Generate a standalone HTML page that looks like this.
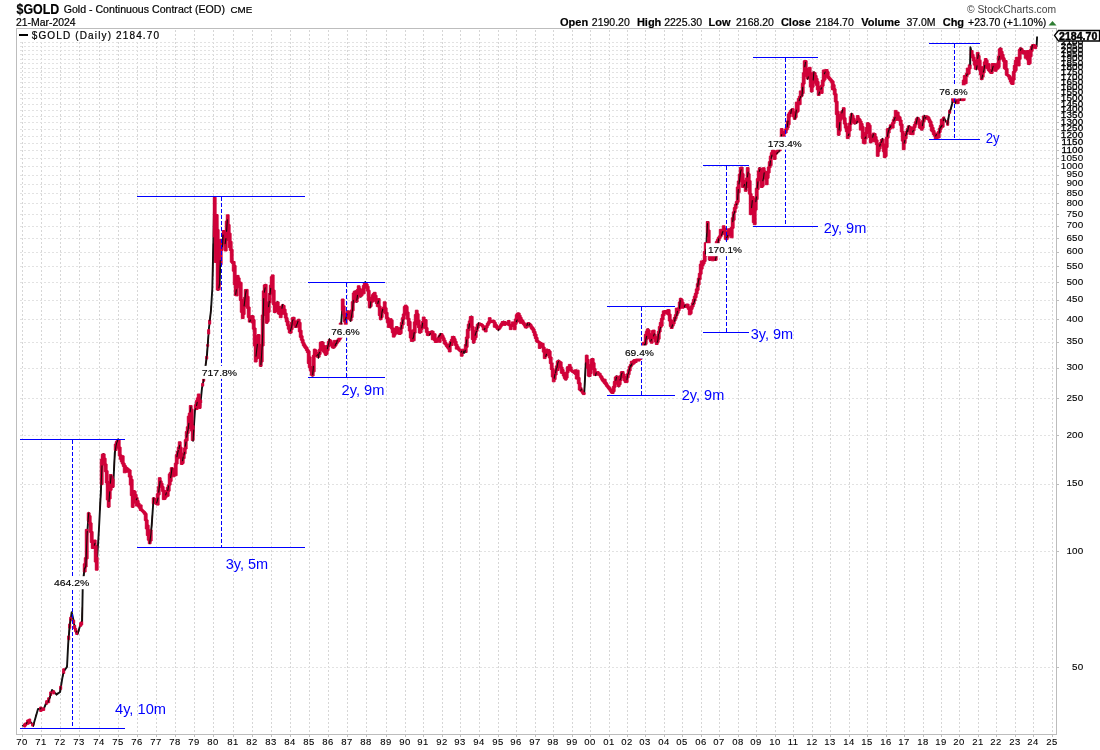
<!DOCTYPE html><html><head><meta charset="utf-8"><style>html,body{margin:0;padding:0;background:#fff;width:1100px;height:750px;overflow:hidden}svg{display:block;will-change:transform}text{font-family:"Liberation Sans",sans-serif}</style></head><body>
<svg width="1100" height="750" viewBox="0 0 1100 750" shape-rendering="crispEdges">
<g stroke="#d6d6d6" stroke-width="1" stroke-dasharray="2,2"><line x1="22.5" y1="30" x2="22.5" y2="732"/><line x1="41.5" y1="30" x2="41.5" y2="732"/><line x1="60.5" y1="30" x2="60.5" y2="732"/><line x1="79.5" y1="30" x2="79.5" y2="732"/><line x1="99.5" y1="30" x2="99.5" y2="732"/><line x1="118.5" y1="30" x2="118.5" y2="732"/><line x1="137.5" y1="30" x2="137.5" y2="732"/><line x1="156.5" y1="30" x2="156.5" y2="732"/><line x1="175.5" y1="30" x2="175.5" y2="732"/><line x1="194.5" y1="30" x2="194.5" y2="732"/><line x1="213.5" y1="30" x2="213.5" y2="732"/><line x1="233.5" y1="30" x2="233.5" y2="732"/><line x1="252.5" y1="30" x2="252.5" y2="732"/><line x1="271.5" y1="30" x2="271.5" y2="732"/><line x1="290.5" y1="30" x2="290.5" y2="732"/><line x1="309.5" y1="30" x2="309.5" y2="732"/><line x1="328.5" y1="30" x2="328.5" y2="732"/><line x1="347.5" y1="30" x2="347.5" y2="732"/><line x1="366.5" y1="30" x2="366.5" y2="732"/><line x1="386.5" y1="30" x2="386.5" y2="732"/><line x1="405.5" y1="30" x2="405.5" y2="732"/><line x1="423.5" y1="30" x2="423.5" y2="732"/><line x1="442.5" y1="30" x2="442.5" y2="732"/><line x1="460.5" y1="30" x2="460.5" y2="732"/><line x1="479.5" y1="30" x2="479.5" y2="732"/><line x1="498.5" y1="30" x2="498.5" y2="732"/><line x1="516.5" y1="30" x2="516.5" y2="732"/><line x1="535.5" y1="30" x2="535.5" y2="732"/><line x1="553.5" y1="30" x2="553.5" y2="732"/><line x1="572.5" y1="30" x2="572.5" y2="732"/><line x1="590.5" y1="30" x2="590.5" y2="732"/><line x1="609.5" y1="30" x2="609.5" y2="732"/><line x1="627.5" y1="30" x2="627.5" y2="732"/><line x1="645.5" y1="30" x2="645.5" y2="732"/><line x1="664.5" y1="30" x2="664.5" y2="732"/><line x1="682.5" y1="30" x2="682.5" y2="732"/><line x1="701.5" y1="30" x2="701.5" y2="732"/><line x1="719.5" y1="30" x2="719.5" y2="732"/><line x1="738.5" y1="30" x2="738.5" y2="732"/><line x1="756.5" y1="30" x2="756.5" y2="732"/><line x1="775.5" y1="30" x2="775.5" y2="732"/><line x1="793.5" y1="30" x2="793.5" y2="732"/><line x1="812.5" y1="30" x2="812.5" y2="732"/><line x1="830.5" y1="30" x2="830.5" y2="732"/><line x1="849.5" y1="30" x2="849.5" y2="732"/><line x1="867.5" y1="30" x2="867.5" y2="732"/><line x1="886.5" y1="30" x2="886.5" y2="732"/><line x1="904.5" y1="30" x2="904.5" y2="732"/><line x1="923.5" y1="30" x2="923.5" y2="732"/><line x1="941.5" y1="30" x2="941.5" y2="732"/><line x1="959.5" y1="30" x2="959.5" y2="732"/><line x1="978.5" y1="30" x2="978.5" y2="732"/><line x1="996.5" y1="30" x2="996.5" y2="732"/><line x1="1015.5" y1="30" x2="1015.5" y2="732"/><line x1="1033.5" y1="30" x2="1033.5" y2="732"/><line x1="1052.5" y1="30" x2="1052.5" y2="732"/></g>
<g stroke="#e2e2e2" stroke-width="1" stroke-dasharray="2,2"><line x1="20" y1="667.5" x2="1055" y2="667.5"/><line x1="20" y1="551.5" x2="1055" y2="551.5"/><line x1="20" y1="484.5" x2="1055" y2="484.5"/><line x1="20" y1="435.5" x2="1055" y2="435.5"/><line x1="20" y1="398.5" x2="1055" y2="398.5"/><line x1="20" y1="368.5" x2="1055" y2="368.5"/><line x1="20" y1="342.5" x2="1055" y2="342.5"/><line x1="20" y1="319.5" x2="1055" y2="319.5"/><line x1="20" y1="300.5" x2="1055" y2="300.5"/><line x1="20" y1="282.5" x2="1055" y2="282.5"/><line x1="20" y1="266.5" x2="1055" y2="266.5"/><line x1="20" y1="252.5" x2="1055" y2="252.5"/><line x1="20" y1="238.5" x2="1055" y2="238.5"/><line x1="20" y1="226.5" x2="1055" y2="226.5"/><line x1="20" y1="214.5" x2="1055" y2="214.5"/><line x1="20" y1="203.5" x2="1055" y2="203.5"/><line x1="20" y1="193.5" x2="1055" y2="193.5"/><line x1="20" y1="184.5" x2="1055" y2="184.5"/><line x1="20" y1="175.5" x2="1055" y2="175.5"/><line x1="20" y1="166.5" x2="1055" y2="166.5"/><line x1="20" y1="158.5" x2="1055" y2="158.5"/><line x1="20" y1="150.5" x2="1055" y2="150.5"/><line x1="20" y1="143.5" x2="1055" y2="143.5"/><line x1="20" y1="136.5" x2="1055" y2="136.5"/><line x1="20" y1="129.5" x2="1055" y2="129.5"/><line x1="20" y1="122.5" x2="1055" y2="122.5"/><line x1="20" y1="116.5" x2="1055" y2="116.5"/><line x1="20" y1="110.5" x2="1055" y2="110.5"/><line x1="20" y1="104.5" x2="1055" y2="104.5"/><line x1="20" y1="98.5" x2="1055" y2="98.5"/><line x1="20" y1="93.5" x2="1055" y2="93.5"/><line x1="20" y1="87.5" x2="1055" y2="87.5"/><line x1="20" y1="82.5" x2="1055" y2="82.5"/><line x1="20" y1="77.5" x2="1055" y2="77.5"/><line x1="20" y1="72.5" x2="1055" y2="72.5"/><line x1="20" y1="68.5" x2="1055" y2="68.5"/><line x1="20" y1="63.5" x2="1055" y2="63.5"/><line x1="20" y1="59.5" x2="1055" y2="59.5"/><line x1="20" y1="54.5" x2="1055" y2="54.5"/><line x1="20" y1="50.5" x2="1055" y2="50.5"/><line x1="20" y1="46.5" x2="1055" y2="46.5"/><line x1="20" y1="42.5" x2="1055" y2="42.5"/></g>
<rect x="16.5" y="28.5" width="1040" height="706" fill="none" stroke="#bdbdbd" stroke-width="1"/>
<g stroke="#bdbdbd" stroke-width="1"><line x1="1057" y1="667.5" x2="1059" y2="667.5"/><line x1="1057" y1="551.5" x2="1059" y2="551.5"/><line x1="1057" y1="484.5" x2="1059" y2="484.5"/><line x1="1057" y1="435.5" x2="1059" y2="435.5"/><line x1="1057" y1="398.5" x2="1059" y2="398.5"/><line x1="1057" y1="368.5" x2="1059" y2="368.5"/><line x1="1057" y1="342.5" x2="1059" y2="342.5"/><line x1="1057" y1="319.5" x2="1059" y2="319.5"/><line x1="1057" y1="300.5" x2="1059" y2="300.5"/><line x1="1057" y1="282.5" x2="1059" y2="282.5"/><line x1="1057" y1="266.5" x2="1059" y2="266.5"/><line x1="1057" y1="252.5" x2="1059" y2="252.5"/><line x1="1057" y1="238.5" x2="1059" y2="238.5"/><line x1="1057" y1="226.5" x2="1059" y2="226.5"/><line x1="1057" y1="214.5" x2="1059" y2="214.5"/><line x1="1057" y1="203.5" x2="1059" y2="203.5"/><line x1="1057" y1="193.5" x2="1059" y2="193.5"/><line x1="1057" y1="184.5" x2="1059" y2="184.5"/><line x1="1057" y1="175.5" x2="1059" y2="175.5"/><line x1="1057" y1="166.5" x2="1059" y2="166.5"/><line x1="1057" y1="158.5" x2="1059" y2="158.5"/><line x1="1057" y1="150.5" x2="1059" y2="150.5"/><line x1="1057" y1="143.5" x2="1059" y2="143.5"/><line x1="1057" y1="136.5" x2="1059" y2="136.5"/><line x1="1057" y1="129.5" x2="1059" y2="129.5"/><line x1="1057" y1="122.5" x2="1059" y2="122.5"/><line x1="1057" y1="116.5" x2="1059" y2="116.5"/><line x1="1057" y1="110.5" x2="1059" y2="110.5"/><line x1="1057" y1="104.5" x2="1059" y2="104.5"/><line x1="1057" y1="98.5" x2="1059" y2="98.5"/><line x1="1057" y1="93.5" x2="1059" y2="93.5"/><line x1="1057" y1="87.5" x2="1059" y2="87.5"/><line x1="1057" y1="82.5" x2="1059" y2="82.5"/><line x1="1057" y1="77.5" x2="1059" y2="77.5"/><line x1="1057" y1="72.5" x2="1059" y2="72.5"/><line x1="1057" y1="68.5" x2="1059" y2="68.5"/><line x1="1057" y1="63.5" x2="1059" y2="63.5"/><line x1="1057" y1="59.5" x2="1059" y2="59.5"/><line x1="1057" y1="54.5" x2="1059" y2="54.5"/><line x1="1057" y1="50.5" x2="1059" y2="50.5"/><line x1="1057" y1="46.5" x2="1059" y2="46.5"/><line x1="1057" y1="42.5" x2="1059" y2="42.5"/><line x1="22.5" y1="735" x2="22.5" y2="737"/><line x1="41.5" y1="735" x2="41.5" y2="737"/><line x1="60.5" y1="735" x2="60.5" y2="737"/><line x1="79.5" y1="735" x2="79.5" y2="737"/><line x1="99.5" y1="735" x2="99.5" y2="737"/><line x1="118.5" y1="735" x2="118.5" y2="737"/><line x1="137.5" y1="735" x2="137.5" y2="737"/><line x1="156.5" y1="735" x2="156.5" y2="737"/><line x1="175.5" y1="735" x2="175.5" y2="737"/><line x1="194.5" y1="735" x2="194.5" y2="737"/><line x1="213.5" y1="735" x2="213.5" y2="737"/><line x1="233.5" y1="735" x2="233.5" y2="737"/><line x1="252.5" y1="735" x2="252.5" y2="737"/><line x1="271.5" y1="735" x2="271.5" y2="737"/><line x1="290.5" y1="735" x2="290.5" y2="737"/><line x1="309.5" y1="735" x2="309.5" y2="737"/><line x1="328.5" y1="735" x2="328.5" y2="737"/><line x1="347.5" y1="735" x2="347.5" y2="737"/><line x1="366.5" y1="735" x2="366.5" y2="737"/><line x1="386.5" y1="735" x2="386.5" y2="737"/><line x1="405.5" y1="735" x2="405.5" y2="737"/><line x1="423.5" y1="735" x2="423.5" y2="737"/><line x1="442.5" y1="735" x2="442.5" y2="737"/><line x1="460.5" y1="735" x2="460.5" y2="737"/><line x1="479.5" y1="735" x2="479.5" y2="737"/><line x1="498.5" y1="735" x2="498.5" y2="737"/><line x1="516.5" y1="735" x2="516.5" y2="737"/><line x1="535.5" y1="735" x2="535.5" y2="737"/><line x1="553.5" y1="735" x2="553.5" y2="737"/><line x1="572.5" y1="735" x2="572.5" y2="737"/><line x1="590.5" y1="735" x2="590.5" y2="737"/><line x1="609.5" y1="735" x2="609.5" y2="737"/><line x1="627.5" y1="735" x2="627.5" y2="737"/><line x1="645.5" y1="735" x2="645.5" y2="737"/><line x1="664.5" y1="735" x2="664.5" y2="737"/><line x1="682.5" y1="735" x2="682.5" y2="737"/><line x1="701.5" y1="735" x2="701.5" y2="737"/><line x1="719.5" y1="735" x2="719.5" y2="737"/><line x1="738.5" y1="735" x2="738.5" y2="737"/><line x1="756.5" y1="735" x2="756.5" y2="737"/><line x1="775.5" y1="735" x2="775.5" y2="737"/><line x1="793.5" y1="735" x2="793.5" y2="737"/><line x1="812.5" y1="735" x2="812.5" y2="737"/><line x1="830.5" y1="735" x2="830.5" y2="737"/><line x1="849.5" y1="735" x2="849.5" y2="737"/><line x1="867.5" y1="735" x2="867.5" y2="737"/><line x1="886.5" y1="735" x2="886.5" y2="737"/><line x1="904.5" y1="735" x2="904.5" y2="737"/><line x1="923.5" y1="735" x2="923.5" y2="737"/><line x1="941.5" y1="735" x2="941.5" y2="737"/><line x1="959.5" y1="735" x2="959.5" y2="737"/><line x1="978.5" y1="735" x2="978.5" y2="737"/><line x1="996.5" y1="735" x2="996.5" y2="737"/><line x1="1015.5" y1="735" x2="1015.5" y2="737"/><line x1="1033.5" y1="735" x2="1033.5" y2="737"/><line x1="1052.5" y1="735" x2="1052.5" y2="737"/></g>
<g font-size="9.9" text-anchor="end" fill="#000" stroke="#000" stroke-width="0.12" letter-spacing="0.2" shape-rendering="auto"><text x="1083.5" y="670.0">50</text><text x="1083.5" y="554.0">100</text><text x="1083.5" y="486.1">150</text><text x="1083.5" y="438.0">200</text><text x="1083.5" y="400.7">250</text><text x="1083.5" y="370.1">300</text><text x="1083.5" y="344.3">350</text><text x="1083.5" y="322.0">400</text><text x="1083.5" y="302.3">450</text><text x="1083.5" y="284.7">500</text><text x="1083.5" y="268.7">550</text><text x="1083.5" y="254.1">600</text><text x="1083.5" y="240.7">650</text><text x="1083.5" y="228.3">700</text><text x="1083.5" y="216.8">750</text><text x="1083.5" y="206.0">800</text><text x="1083.5" y="195.9">850</text><text x="1083.5" y="186.3">900</text><text x="1083.5" y="177.2">950</text><text x="1083.5" y="168.7">1000</text><text x="1083.5" y="160.5">1050</text><text x="1083.5" y="152.7" stroke-width="0.3">1100</text><text x="1083.5" y="145.3" stroke-width="0.3">1150</text><text x="1083.5" y="138.1" stroke-width="0.3">1200</text><text x="1083.5" y="131.3" stroke-width="0.3">1250</text><text x="1083.5" y="124.7" stroke-width="0.3">1300</text><text x="1083.5" y="118.4" stroke-width="0.3">1350</text><text x="1083.5" y="112.3" stroke-width="0.3">1400</text><text x="1083.5" y="106.5" stroke-width="0.3">1450</text><text x="1083.5" y="100.8" stroke-width="0.3">1500</text><text x="1083.5" y="95.3" stroke-width="0.3">1550</text><text x="1083.5" y="90.0" stroke-width="0.3">1600</text><text x="1083.5" y="84.9" stroke-width="0.3">1650</text><text x="1083.5" y="79.9" stroke-width="0.3">1700</text><text x="1083.5" y="75.0" stroke-width="0.3">1750</text><text x="1083.5" y="70.3" stroke-width="0.3">1800</text><text x="1083.5" y="65.7" stroke-width="0.3">1850</text><text x="1083.5" y="61.2" stroke-width="0.3">1900</text><text x="1083.5" y="56.9" stroke-width="0.3">1950</text><text x="1083.5" y="52.7" stroke-width="0.3">2000</text><text x="1083.5" y="48.5" stroke-width="0.3">2050</text><text x="1083.5" y="44.5" stroke-width="0.3">2100</text></g>
<g font-size="9.5" letter-spacing="0.5" text-anchor="middle" fill="#000" stroke="#000" stroke-width="0.1" shape-rendering="auto"><text x="22.1" y="745.1">70</text><text x="41.1" y="745.1">71</text><text x="60.1" y="745.1">72</text><text x="79.1" y="745.1">73</text><text x="99.1" y="745.1">74</text><text x="118.1" y="745.1">75</text><text x="137.1" y="745.1">76</text><text x="156.1" y="745.1">77</text><text x="175.1" y="745.1">78</text><text x="194.1" y="745.1">79</text><text x="213.1" y="745.1">80</text><text x="233.1" y="745.1">81</text><text x="252.1" y="745.1">82</text><text x="271.1" y="745.1">83</text><text x="290.1" y="745.1">84</text><text x="309.1" y="745.1">85</text><text x="328.1" y="745.1">86</text><text x="347.1" y="745.1">87</text><text x="366.1" y="745.1">88</text><text x="386.1" y="745.1">89</text><text x="405.1" y="745.1">90</text><text x="423.1" y="745.1">91</text><text x="442.1" y="745.1">92</text><text x="460.1" y="745.1">93</text><text x="479.1" y="745.1">94</text><text x="498.1" y="745.1">95</text><text x="516.1" y="745.1">96</text><text x="535.1" y="745.1">97</text><text x="553.1" y="745.1">98</text><text x="572.1" y="745.1">99</text><text x="590.1" y="745.1">00</text><text x="609.1" y="745.1">01</text><text x="627.1" y="745.1">02</text><text x="645.1" y="745.1">03</text><text x="664.1" y="745.1">04</text><text x="682.1" y="745.1">05</text><text x="701.1" y="745.1">06</text><text x="719.1" y="745.1">07</text><text x="738.1" y="745.1">08</text><text x="756.1" y="745.1">09</text><text x="775.1" y="745.1">10</text><text x="793.1" y="745.1">11</text><text x="812.1" y="745.1">12</text><text x="830.1" y="745.1">13</text><text x="849.1" y="745.1">14</text><text x="867.1" y="745.1">15</text><text x="886.1" y="745.1">16</text><text x="904.1" y="745.1">17</text><text x="923.1" y="745.1">18</text><text x="941.1" y="745.1">19</text><text x="959.1" y="745.1">20</text><text x="978.1" y="745.1">21</text><text x="996.1" y="745.1">22</text><text x="1015.1" y="745.1">23</text><text x="1033.1" y="745.1">24</text><text x="1052.1" y="745.1">25</text></g>
<path d="M22.2,726.0 L26.0,724.0 L29.3,721.0 L33.4,725.0 L36.0,716.0 L38.0,709.0 L43.8,709.0 L46.2,702.7 L49.0,700.0 L52.0,690.0 L56.6,694.6 L60.1,692.0 L62.0,680.0 L63.6,671.4 L67.0,667.0 L68.2,643.5 L69.8,625.0 L71.7,612.2 L73.0,618.0 L75.2,629.6 L77.5,634.2 L80.0,626.0 L82.1,622.6 L82.8,583.0 L84.4,569.3 L86.0,563.8 L86.9,538.8 L88.7,512.8 L90.5,525.0 L92.8,548.0 L95.0,543.0 L96.6,568.0 L98.9,530.0 L101.0,489.0 L102.3,457.0 L103.4,454.0 L106.8,475.0 L108.6,507.0 L110.9,475.0 L113.2,487.0 L114.8,452.7 L116.3,443.6 L118.2,440.0 L120.4,457.0 L125.0,467.0 L129.5,470.8 L131.8,489.0 L132.9,507.0 L134.0,491.0 L138.6,505.0 L140.8,509.0 L145.4,514.0 L148.0,534.0 L149.9,543.4 L151.7,525.0 L153.6,498.0 L157.0,504.0 L160.0,481.0 L162.0,486.0 L165.0,497.0 L169.0,486.0 L172.0,468.0 L175.0,474.0 L177.0,456.0 L179.6,446.0 L182.0,464.0 L185.0,450.0 L187.0,434.0 L189.0,424.0 L191.0,406.0 L193.0,440.0 L195.0,410.0 L198.0,398.0 L200.0,408.0 L202.0,388.0 L203.6,380.0 L207.0,355.0 L208.9,328.7 L211.0,310.0 L212.3,288.7 L213.2,250.0 L214.2,197.5 L215.0,225.0 L216.0,262.0 L217.0,215.0 L218.0,290.0 L219.5,285.0 L221.0,240.0 L222.0,250.0 L223.5,231.0 L225.5,246.0 L227.4,218.6 L230.0,240.0 L231.5,251.7 L232.3,263.0 L234.0,262.0 L235.8,295.0 L237.5,276.0 L240.1,286.4 L242.7,317.6 L246.2,289.9 L248.0,305.5 L249.7,321.0 L252.3,315.9 L254.9,333.2 L255.7,359.2 L258.3,334.9 L260.9,366.1 L262.7,336.7 L263.5,302.0 L265.3,284.7 L267.0,322.8 L269.6,298.5 L272.2,277.7 L274.8,312.4 L277.4,302.0 L279.3,314.0 L283.0,304.8 L286.7,319.7 L290.4,332.8 L293.2,317.8 L296.0,327.0 L298.8,319.7 L300.7,334.6 L303.5,344.0 L308.2,351.4 L310.0,366.0 L312.5,375.7 L314.7,349.6 L318.4,357.0 L322.2,342.0 L325.9,355.0 L329.6,340.0 L333.4,347.7 L337.0,342.0 L339.9,338.4 L341.3,322.0 L342.7,303.3 L345.3,322.0 L348.0,311.3 L350.7,320.7 L352.7,307.3 L354.0,294.0 L355.3,291.3 L356.7,302.0 L358.7,286.7 L360.7,296.7 L363.3,289.3 L365.3,282.0 L368.0,288.7 L370.0,307.3 L372.0,298.0 L374.7,293.3 L376.7,303.3 L378.7,302.0 L380.7,319.3 L382.7,310.0 L384.7,306.7 L388.0,322.0 L391.3,324.7 L394.0,335.3 L396.7,327.3 L400.0,334.0 L402.7,320.7 L405.3,310.0 L407.3,312.7 L410.0,330.0 L413.3,340.7 L416.7,311.3 L420.0,332.7 L424.0,319.3 L428.0,335.3 L432.0,331.3 L436.0,342.0 L441.3,334.0 L445.3,343.3 L448.7,348.7 L453.3,336.7 L456.0,344.7 L459.3,350.0 L461.7,351.6 L464.7,352.3 L466.1,345.7 L468.3,329.6 L471.3,316.4 L473.5,342.8 L475.7,332.5 L478.6,323.7 L482.3,325.2 L485.2,329.6 L488.9,322.3 L493.3,320.8 L498.4,329.6 L503.5,321.5 L508.7,324.5 L513.1,325.9 L516.0,323.0 L518.2,313.5 L521.9,320.8 L526.3,327.4 L528.5,323.0 L533.6,329.6 L537.3,341.3 L542.4,344.3 L545.3,356.0 L549.0,350.1 L552.7,372.1 L554.1,379.5 L558.5,360.4 L562.9,372.1 L565.9,379.5 L568.1,367.5 L573.2,371.9 L577.6,374.8 L580.5,389.5 L584.2,393.9 L585.7,364.5 L586.7,355.7 L589.3,376.3 L592.3,358.7 L595.2,374.8 L598.9,373.3 L602.5,379.2 L606.9,385.1 L612.8,393.1 L616.5,376.3 L618.7,386.5 L622.3,371.9 L626.0,382.1 L630.4,366.0 L634.8,360.1 L640.7,358.7 L645.1,344.0 L648.0,329.3 L650.9,341.1 L653.9,333.7 L656.8,344.0 L659.7,329.3 L664.1,311.7 L668.5,310.3 L671.5,327.9 L675.9,316.1 L679.5,307.3 L680.7,298.6 L683.9,307.1 L687.1,305.0 L690.3,311.4 L693.5,302.9 L696.7,292.2 L699.1,279.0 L701.7,266.2 L703.9,261.9 L705.5,254.4 L706.5,242.7 L707.3,221.9 L708.7,235.2 L709.7,260.0 L712.5,257.0 L715.6,260.0 L718.3,239.5 L722.0,233.1 L724.2,228.3 L726.3,239.5 L729.5,232.0 L731.6,235.2 L732.7,221.3 L733.8,213.9 L735.9,205.3 L737.5,201.0 L738.8,183.9 L741.2,167.9 L743.6,183.9 L746.0,188.7 L747.9,171.9 L750.0,187.1 L750.8,214.2 L752.4,199.9 L754.0,222.2 L756.4,196.7 L758.0,180.7 L759.6,167.9 L762.0,187.1 L764.3,171.1 L766.7,180.7 L769.1,167.9 L771.2,156.7 L772.8,150.4 L775.5,154.3 L777.9,150.4 L779.5,150.4 L781.9,132.8 L785.1,132.8 L787.5,126.4 L789.2,114.0 L792.4,109.2 L794.8,118.8 L797.2,107.6 L799.6,98.0 L802.0,94.8 L803.6,80.4 L805.2,61.2 L807.6,78.8 L810.0,70.8 L811.6,91.6 L814.0,72.4 L817.2,82.0 L818.8,93.2 L822.0,86.8 L825.2,70.8 L828.4,77.2 L832.4,82.0 L834.8,91.6 L836.4,102.8 L837.2,114.0 L838.8,134.8 L840.4,117.2 L842.8,110.8 L845.2,123.6 L848.4,136.4 L851.6,114.0 L854.8,123.6 L858.8,118.8 L860.0,120.9 L862.1,126.3 L864.3,143.3 L865.9,134.8 L868.0,123.1 L869.6,130.5 L870.7,142.3 L873.9,133.7 L877.1,143.3 L878.1,151.9 L882.4,139.1 L885.1,157.2 L887.2,138.0 L888.8,129.5 L892.0,126.3 L894.1,120.9 L896.3,114.5 L899.5,117.7 L901.6,126.3 L903.7,145.5 L905.9,134.8 L909.1,126.3 L912.3,132.7 L915.5,124.1 L917.6,117.7 L919.7,124.1 L921.9,129.5 L924.0,116.7 L927.2,116.7 L930.4,122.0 L933.6,132.7 L935.7,136.9 L939.0,132.7 L941.1,126.3 L943.8,117.7 L947.5,124.1 L949.6,111.3 L950.6,109.6 L952.2,103.2 L952.6,98.8 L955.8,102.4 L959.0,99.2 L963.4,99.6 L963.4,82.4 L966.2,76.0 L968.6,70.4 L970.2,65.6 L970.4,47.2 L972.0,54.7 L974.1,60.0 L976.3,68.5 L978.4,55.7 L981.1,72.8 L981.6,79.2 L983.7,69.6 L985.9,58.9 L988.0,68.5 L991.2,72.8 L994.4,64.3 L997.6,68.5 L1000.3,48.3 L1002.9,57.9 L1005.1,63.2 L1007.2,74.9 L1009.3,76.0 L1012.5,84.0 L1014.7,68.5 L1016.8,57.9 L1018.9,61.1 L1020.5,48.3 L1023.2,53.6 L1025.4,51.5 L1027.5,55.7 L1029.1,64.3 L1030.7,52.5 L1032.8,45.1 L1035.0,47.2 L1036.6,46.1 L1037.1,36.5" fill="none" stroke="#111" stroke-width="1.9" stroke-linejoin="round" shape-rendering="auto"/>
<path d="M23.7,723.8h2.0v3.2h-2.0zM24.7,722.9h2.0v2.8h-2.0zM26.7,720.0h2.0v4.3h-2.0zM27.7,719.9h2.0v3.9h-2.0zM28.7,719.0h2.0v4.0h-2.0zM31.7,723.4h2.0v2.7h-2.0zM39.7,707.0h2.0v4.4h-2.0zM40.7,707.8h2.0v3.1h-2.0zM42.7,708.0h2.0v2.4h-2.0zM45.7,700.7h2.0v3.5h-2.0zM47.7,697.8h2.0v4.9h-2.0zM49.7,691.9h2.0v3.5h-2.0zM52.7,690.8h2.0v3.1h-2.0zM59.7,686.2h2.0v3.1h-2.0zM62.7,668.8h2.0v4.8h-2.0zM67.7,635.9h2.0v3.7h-2.0zM68.7,623.9h2.0v4.3h-2.0zM69.7,617.2h2.0v3.4h-2.0zM72.7,620.2h2.0v3.1h-2.0zM73.7,625.5h2.0v3.5h-2.0zM74.7,628.4h2.0v3.4h-2.0zM75.7,631.0h2.0v3.4h-2.0zM79.7,622.7h2.0v3.6h-2.0zM80.7,621.7h2.0v3.3h-2.0zM83.3,563.8h2.8v8.2h-2.8zM84.3,557.7h2.8v9.3h-2.8zM85.3,529.4h2.8v29.5h-2.8zM87.3,512.8h2.8v8.0h-2.8zM88.3,515.7h2.8v7.7h-2.8zM89.3,522.9h2.8v9.4h-2.8zM90.3,531.6h2.8v10.9h-2.8zM91.3,541.8h2.8v6.7h-2.8zM92.3,540.7h2.8v6.9h-2.8zM93.3,540.0h2.8v6.5h-2.8zM94.3,545.7h2.8v16.3h-2.8zM95.3,557.5h2.8v12.7h-2.8zM100.3,459.2h2.8v25.4h-2.8zM101.3,454.2h2.8v5.4h-2.8zM102.3,453.9h2.8v5.6h-2.8zM103.3,458.2h2.8v6.9h-2.8zM104.3,464.0h2.8v7.7h-2.8zM105.3,470.7h2.8v12.2h-2.8zM106.3,481.5h2.8v18.4h-2.8zM107.3,498.2h2.8v8.9h-2.8zM108.3,484.7h2.8v14.2h-2.8zM109.3,474.5h2.8v15.8h-2.8zM110.3,476.2h2.8v7.9h-2.8zM111.3,479.1h2.8v8.2h-2.8zM114.3,444.1h2.8v6.3h-2.8zM115.3,441.6h2.8v3.1h-2.8zM116.3,439.6h2.8v3.4h-2.8zM117.3,439.6h2.8v8.6h-2.8zM118.3,447.1h2.8v8.8h-2.8zM119.3,454.9h2.8v4.4h-2.8zM120.3,458.6h2.8v3.2h-2.8zM121.3,455.8h2.8v8.2h-2.8zM122.3,463.0h2.8v3.4h-2.8zM123.3,465.0h2.8v7.8h-2.8zM124.3,466.8h2.8v1.7h-2.8zM125.3,467.6h2.8v4.6h-2.8zM126.3,468.4h2.8v2.0h-2.8zM127.3,469.3h2.8v2.1h-2.8zM128.3,470.0h2.8v7.0h-2.8zM129.3,475.9h2.8v9.1h-2.8zM130.3,479.4h2.8v16.2h-2.8zM131.3,495.2h2.8v12.1h-2.8zM132.3,490.5h2.8v12.6h-2.8zM133.3,491.2h2.8v4.1h-2.8zM134.3,494.6h2.8v4.2h-2.8zM135.3,497.6h2.8v8.4h-2.8zM136.3,500.6h2.8v3.6h-2.8zM137.3,503.2h2.8v3.4h-2.8zM138.3,505.5h2.8v2.7h-2.8zM139.3,504.9h2.8v5.6h-2.8zM140.3,509.1h2.8v1.7h-2.8zM141.3,510.3h2.8v1.3h-2.8zM142.3,511.0h2.8v1.8h-2.8zM143.3,512.0h2.8v2.2h-2.8zM144.3,513.5h2.8v7.1h-2.8zM145.3,519.9h2.8v9.0h-2.8zM146.3,525.1h2.8v10.4h-2.8zM147.3,530.0h2.8v10.2h-2.8zM148.3,539.6h2.8v4.1h-2.8zM149.3,529.9h2.8v11.1h-2.8zM152.3,497.9h2.8v5.8h-2.8zM153.3,498.7h2.8v2.4h-2.8zM154.3,500.2h2.8v2.5h-2.8zM155.3,501.5h2.8v2.9h-2.8zM156.3,493.8h2.8v11.3h-2.8zM157.3,486.7h2.8v8.2h-2.8zM158.3,477.7h2.8v9.5h-2.8zM159.3,480.9h2.8v3.7h-2.8zM160.3,483.3h2.8v3.7h-2.8zM161.3,486.6h2.8v4.7h-2.8zM162.3,490.3h2.8v9.3h-2.8zM163.3,493.9h2.8v5.4h-2.8zM164.3,493.4h2.8v4.2h-2.8zM165.3,490.5h2.8v3.6h-2.8zM166.3,487.3h2.8v9.0h-2.8zM167.3,484.8h2.8v6.4h-2.8zM168.3,473.9h2.8v11.2h-2.8zM169.3,472.4h2.8v9.0h-2.8zM170.3,467.7h2.8v5.5h-2.8zM171.3,468.3h2.8v2.7h-2.8zM172.3,470.1h2.8v6.7h-2.8zM173.3,472.2h2.8v2.2h-2.8zM174.3,463.2h2.8v12.5h-2.8zM175.3,454.7h2.8v9.3h-2.8zM176.3,451.4h2.8v7.4h-2.8zM177.3,447.0h2.8v5.2h-2.8zM178.3,441.8h2.8v9.3h-2.8zM179.3,447.2h2.8v10.9h-2.8zM180.3,457.8h2.8v6.6h-2.8zM181.3,457.7h2.8v5.7h-2.8zM182.3,453.0h2.8v5.6h-2.8zM183.3,448.1h2.8v5.7h-2.8zM184.3,439.7h2.8v9.3h-2.8zM185.3,431.6h2.8v9.2h-2.8zM186.3,426.8h2.8v6.6h-2.8zM187.3,416.2h2.8v12.3h-2.8zM188.3,413.1h2.8v9.6h-2.8zM189.3,405.5h2.8v10.4h-2.8zM190.3,409.2h2.8v21.8h-2.8zM191.3,425.7h2.8v14.8h-2.8zM194.3,404.7h2.8v4.9h-2.8zM195.3,400.7h2.8v8.7h-2.8zM196.3,397.9h2.8v3.8h-2.8zM197.3,394.0h2.8v10.7h-2.8zM198.3,403.7h2.8v4.6h-2.8zM199.7,400.1h2.0v2.9h-2.0zM201.7,383.3h2.0v2.7h-2.0zM202.7,377.3h2.0v3.9h-2.0zM205.7,356.3h2.0v2.7h-2.0zM206.7,344.5h2.0v1.8h-2.0zM207.7,329.6h2.0v4.4h-2.0zM208.7,320.1h2.0v4.0h-2.0zM213.3,197.2h2.8v39.8h-2.8zM214.3,232.1h2.8v30.3h-2.8zM215.3,214.6h2.8v38.3h-2.8zM216.3,229.6h2.8v60.5h-2.8zM217.3,283.0h2.8v6.9h-2.8zM219.3,239.4h2.8v25.3h-2.8zM220.3,241.3h2.8v9.0h-2.8zM222.3,230.6h2.8v6.2h-2.8zM223.3,235.7h2.8v8.1h-2.8zM224.3,235.3h2.8v15.7h-2.8zM225.3,221.1h2.8v19.2h-2.8zM226.3,214.8h2.8v11.1h-2.8zM227.3,224.6h2.8v9.5h-2.8zM228.3,233.2h2.8v14.3h-2.8zM229.3,241.4h2.8v9.0h-2.8zM230.3,249.3h2.8v12.9h-2.8zM231.3,261.2h2.8v2.0h-2.8zM232.3,261.5h2.8v9.7h-2.8zM233.3,265.5h2.8v19.3h-2.8zM234.3,283.5h2.8v11.9h-2.8zM235.3,278.6h2.8v17.3h-2.8zM236.3,275.4h2.8v4.0h-2.8zM237.3,277.9h2.8v7.0h-2.8zM238.3,281.9h2.8v5.8h-2.8zM239.3,282.4h2.8v18.1h-2.8zM240.3,299.6h2.8v12.7h-2.8zM241.3,311.5h2.8v7.1h-2.8zM242.3,305.4h2.8v9.1h-2.8zM243.3,297.4h2.8v9.3h-2.8zM244.3,289.6h2.8v8.5h-2.8zM245.3,289.4h2.8v9.9h-2.8zM246.3,296.4h2.8v11.9h-2.8zM247.3,307.0h2.8v10.4h-2.8zM248.3,315.9h2.8v6.2h-2.8zM249.3,317.9h2.8v3.1h-2.8zM250.3,316.0h2.8v2.5h-2.8zM251.3,315.8h2.8v7.2h-2.8zM252.3,319.6h2.8v9.6h-2.8zM253.3,328.0h2.8v17.9h-2.8zM254.3,342.9h2.8v19.1h-2.8zM255.3,344.7h2.8v14.3h-2.8zM256.3,335.6h2.8v10.5h-2.8zM257.3,334.6h2.8v11.6h-2.8zM258.3,345.1h2.8v13.2h-2.8zM259.3,357.4h2.8v8.9h-2.8zM260.3,344.3h2.8v17.6h-2.8zM261.3,315.0h2.8v30.9h-2.8zM262.3,290.9h2.8v24.7h-2.8zM263.3,284.9h2.8v10.9h-2.8zM264.3,284.4h2.8v21.1h-2.8zM265.3,304.4h2.8v18.8h-2.8zM266.3,311.2h2.8v10.4h-2.8zM267.3,301.9h2.8v10.3h-2.8zM268.3,293.5h2.8v9.1h-2.8zM269.3,285.2h2.8v8.8h-2.8zM270.3,276.7h2.8v13.4h-2.8zM271.3,274.9h2.8v16.4h-2.8zM272.3,290.1h2.8v14.6h-2.8zM273.3,304.0h2.8v8.5h-2.8zM274.3,306.2h2.8v5.2h-2.8zM275.3,302.5h2.8v4.4h-2.8zM276.3,301.9h2.8v10.0h-2.8zM277.3,306.5h2.8v7.5h-2.8zM278.3,311.2h2.8v2.8h-2.8zM279.3,309.1h2.8v8.6h-2.8zM280.3,306.3h2.8v7.8h-2.8zM281.3,304.8h2.8v7.0h-2.8zM282.3,305.5h2.8v8.7h-2.8zM283.3,309.2h2.8v4.7h-2.8zM284.3,313.2h2.8v4.9h-2.8zM285.3,317.7h2.8v4.2h-2.8zM286.3,320.9h2.8v4.6h-2.8zM287.3,324.9h2.8v4.3h-2.8zM288.3,328.5h2.8v4.4h-2.8zM289.3,328.3h2.8v4.8h-2.8zM290.3,322.6h2.8v6.9h-2.8zM291.3,317.7h2.8v5.8h-2.8zM292.3,317.3h2.8v4.9h-2.8zM293.3,321.0h2.8v4.2h-2.8zM294.3,324.2h2.8v3.3h-2.8zM295.3,323.4h2.8v3.7h-2.8zM296.3,320.7h2.8v4.1h-2.8zM297.3,319.3h2.8v4.5h-2.8zM298.3,322.4h2.8v9.4h-2.8zM299.3,330.3h2.8v7.0h-2.8zM300.3,335.8h2.8v4.4h-2.8zM301.3,339.6h2.8v3.5h-2.8zM302.3,342.8h2.8v2.9h-2.8zM303.3,344.7h2.8v2.5h-2.8zM304.3,346.2h2.8v2.3h-2.8zM305.3,347.5h2.8v2.9h-2.8zM306.3,349.6h2.8v3.0h-2.8zM307.3,350.9h2.8v12.6h-2.8zM308.3,356.9h2.8v10.7h-2.8zM309.3,366.7h2.8v4.1h-2.8zM310.3,370.3h2.8v4.9h-2.8zM311.3,366.9h2.8v9.1h-2.8zM312.3,355.3h2.8v16.5h-2.8zM313.3,349.2h2.8v7.2h-2.8zM314.3,350.1h2.8v3.0h-2.8zM315.3,352.6h2.8v2.2h-2.8zM316.3,354.6h2.8v2.6h-2.8zM317.3,353.8h2.8v3.4h-2.8zM318.3,349.3h2.8v5.1h-2.8zM319.3,342.2h2.8v8.4h-2.8zM320.3,341.9h2.8v4.5h-2.8zM321.3,342.0h2.8v7.0h-2.8zM322.3,345.5h2.8v6.4h-2.8zM323.3,348.7h2.8v4.4h-2.8zM324.3,352.3h2.8v2.9h-2.8zM325.3,345.7h2.8v8.5h-2.8zM326.3,345.5h2.8v5.1h-2.8zM327.3,341.6h2.8v4.9h-2.8zM328.3,339.5h2.8v3.0h-2.8zM329.3,340.6h2.8v3.6h-2.8zM330.3,342.9h2.8v3.0h-2.8zM331.3,344.7h2.8v3.2h-2.8zM332.3,345.5h2.8v2.6h-2.8zM333.3,340.4h2.8v6.5h-2.8zM334.3,342.8h2.8v2.6h-2.8zM335.3,341.6h2.8v2.1h-2.8zM336.3,340.0h2.8v2.3h-2.8zM337.3,338.8h2.8v2.5h-2.8zM338.3,334.3h2.8v5.3h-2.8zM339.3,323.0h2.8v15.1h-2.8zM341.3,299.0h2.8v11.4h-2.8zM342.3,306.1h2.8v8.0h-2.8zM343.3,313.2h2.8v8.6h-2.8zM344.3,317.5h2.8v8.7h-2.8zM345.3,313.6h2.8v5.3h-2.8zM346.3,311.2h2.8v7.0h-2.8zM347.3,311.0h2.8v4.8h-2.8zM348.3,314.7h2.8v4.6h-2.8zM349.3,316.4h2.8v4.4h-2.8zM350.3,310.0h2.8v7.5h-2.8zM351.3,301.7h2.8v9.1h-2.8zM352.3,293.0h2.8v9.7h-2.8zM353.3,291.2h2.8v2.4h-2.8zM354.3,291.2h2.8v7.0h-2.8zM355.3,297.5h2.8v4.5h-2.8zM356.3,289.6h2.8v8.7h-2.8zM357.3,285.8h2.8v5.0h-2.8zM358.3,288.2h2.8v6.4h-2.8zM359.3,293.8h2.8v2.9h-2.8zM360.3,292.0h2.8v3.6h-2.8zM361.3,289.4h2.8v3.3h-2.8zM362.3,285.6h2.8v8.2h-2.8zM363.3,282.6h2.8v4.0h-2.8zM364.3,282.6h2.8v5.6h-2.8zM365.3,284.0h2.8v2.7h-2.8zM366.3,286.2h2.8v4.8h-2.8zM367.3,290.3h2.8v10.3h-2.8zM368.3,299.4h2.8v8.4h-2.8zM369.3,301.1h2.8v5.4h-2.8zM370.3,297.1h2.8v5.1h-2.8zM371.3,294.8h2.8v7.1h-2.8zM372.3,293.5h2.8v2.4h-2.8zM373.3,292.3h2.8v4.1h-2.8zM374.3,295.4h2.8v5.7h-2.8zM375.3,300.1h2.8v3.5h-2.8zM376.3,301.7h2.8v4.9h-2.8zM377.3,298.6h2.8v8.3h-2.8zM378.3,306.1h2.8v9.4h-2.8zM379.3,314.7h2.8v5.0h-2.8zM380.3,311.2h2.8v6.2h-2.8zM381.3,308.2h2.8v4.1h-2.8zM382.3,307.2h2.8v2.2h-2.8zM383.3,301.8h2.8v7.5h-2.8zM384.3,307.8h2.8v6.0h-2.8zM385.3,312.4h2.8v6.2h-2.8zM386.3,317.4h2.8v5.3h-2.8zM387.3,321.5h2.8v5.9h-2.8zM388.3,321.8h2.8v5.5h-2.8zM389.3,318.7h2.8v6.0h-2.8zM390.3,320.1h2.8v8.8h-2.8zM391.3,328.0h2.8v4.7h-2.8zM392.3,331.7h2.8v5.4h-2.8zM393.3,331.7h2.8v3.5h-2.8zM394.3,328.1h2.8v4.2h-2.8zM395.3,326.6h2.8v2.5h-2.8zM396.3,327.8h2.8v6.1h-2.8zM397.3,330.1h2.8v2.6h-2.8zM398.3,332.0h2.8v2.4h-2.8zM399.3,327.5h2.8v6.1h-2.8zM400.3,322.4h2.8v6.2h-2.8zM401.3,317.8h2.8v7.1h-2.8zM402.3,314.0h2.8v5.2h-2.8zM403.3,306.6h2.8v8.5h-2.8zM404.3,305.1h2.8v6.3h-2.8zM405.3,306.5h2.8v6.6h-2.8zM406.3,312.1h2.8v7.1h-2.8zM407.3,318.4h2.8v7.1h-2.8zM408.3,321.5h2.8v9.5h-2.8zM409.3,330.2h2.8v7.8h-2.8zM410.3,333.7h2.8v7.7h-2.8zM411.3,336.7h2.8v3.7h-2.8zM412.3,329.8h2.8v11.0h-2.8zM413.3,321.9h2.8v11.2h-2.8zM414.3,314.6h2.8v10.3h-2.8zM415.3,310.2h2.8v5.9h-2.8zM416.3,313.8h2.8v7.6h-2.8zM417.3,320.1h2.8v7.4h-2.8zM418.3,325.2h2.8v7.8h-2.8zM419.3,328.7h2.8v3.9h-2.8zM420.3,325.3h2.8v4.1h-2.8zM421.3,321.6h2.8v6.3h-2.8zM422.3,317.0h2.8v5.5h-2.8zM423.3,320.0h2.8v4.7h-2.8zM424.3,319.6h2.8v9.0h-2.8zM425.3,327.7h2.8v4.6h-2.8zM426.3,331.6h2.8v3.8h-2.8zM427.3,333.7h2.8v1.7h-2.8zM428.3,332.4h2.8v2.0h-2.8zM429.3,331.5h2.8v1.7h-2.8zM430.3,331.0h2.8v3.3h-2.8zM431.3,331.2h2.8v8.5h-2.8zM432.3,334.3h2.8v3.6h-2.8zM433.3,333.8h2.8v6.8h-2.8zM434.3,339.7h2.8v2.8h-2.8zM435.3,339.5h2.8v2.7h-2.8zM436.3,338.3h2.8v2.4h-2.8zM437.3,337.0h2.8v2.2h-2.8zM438.3,335.2h2.8v7.1h-2.8zM439.3,333.7h2.8v2.8h-2.8zM440.3,333.8h2.8v2.8h-2.8zM441.3,335.6h2.8v2.9h-2.8zM442.3,337.8h2.8v3.0h-2.8zM443.3,340.2h2.8v3.7h-2.8zM444.3,342.5h2.8v2.4h-2.8zM445.3,344.6h2.8v1.9h-2.8zM446.3,346.0h2.8v1.9h-2.8zM447.3,344.1h2.8v5.0h-2.8zM448.3,344.0h2.8v7.9h-2.8zM449.3,341.6h2.8v3.5h-2.8zM450.3,339.4h2.8v6.1h-2.8zM451.3,336.4h2.8v6.0h-2.8zM452.3,336.5h2.8v3.0h-2.8zM453.3,338.7h2.8v4.0h-2.8zM454.3,341.3h2.8v4.1h-2.8zM455.3,344.5h2.8v4.6h-2.8zM456.3,346.4h2.8v2.3h-2.8zM457.3,347.9h2.8v2.1h-2.8zM458.3,349.4h2.8v1.6h-2.8zM459.3,350.2h2.8v1.5h-2.8zM460.3,351.0h2.8v5.2h-2.8zM461.3,349.2h2.8v3.0h-2.8zM462.3,351.5h2.8v0.9h-2.8zM463.3,349.7h2.8v2.8h-2.8zM464.3,344.6h2.8v7.9h-2.8zM465.3,337.1h2.8v10.2h-2.8zM466.3,329.4h2.8v8.8h-2.8zM467.3,324.2h2.8v6.4h-2.8zM468.3,320.9h2.8v4.8h-2.8zM469.3,316.6h2.8v4.7h-2.8zM470.3,316.4h2.8v10.9h-2.8zM471.3,326.6h2.8v12.9h-2.8zM472.3,338.8h2.8v4.2h-2.8zM473.3,334.5h2.8v5.5h-2.8zM474.3,330.3h2.8v7.4h-2.8zM475.3,327.2h2.8v4.1h-2.8zM476.3,324.4h2.8v3.8h-2.8zM477.3,323.2h2.8v2.3h-2.8zM478.3,323.0h2.8v1.5h-2.8zM479.3,323.6h2.8v1.3h-2.8zM480.3,324.0h2.8v1.7h-2.8zM481.3,325.0h2.8v2.0h-2.8zM482.3,326.3h2.8v3.7h-2.8zM483.3,327.3h2.8v2.6h-2.8zM484.3,327.1h2.8v4.8h-2.8zM485.3,325.7h2.8v2.2h-2.8zM486.3,323.3h2.8v2.5h-2.8zM487.3,321.8h2.8v2.3h-2.8zM488.3,317.7h2.8v4.7h-2.8zM489.3,321.2h2.8v1.4h-2.8zM490.3,320.7h2.8v1.6h-2.8zM491.3,320.3h2.8v1.9h-2.8zM492.3,320.3h2.8v2.4h-2.8zM493.3,322.0h2.8v5.2h-2.8zM494.3,324.0h2.8v2.8h-2.8zM495.3,325.5h2.8v2.6h-2.8zM496.3,327.2h2.8v2.2h-2.8zM497.3,328.2h2.8v1.7h-2.8zM498.3,326.5h2.8v2.1h-2.8zM499.3,324.8h2.8v2.3h-2.8zM500.3,323.1h2.8v2.3h-2.8zM501.3,321.5h2.8v2.6h-2.8zM502.3,321.4h2.8v0.9h-2.8zM503.3,321.6h2.8v3.8h-2.8zM504.3,322.3h2.8v1.3h-2.8zM505.3,322.9h2.8v1.5h-2.8zM506.3,323.4h2.8v0.9h-2.8zM507.3,320.5h2.8v4.7h-2.8zM508.3,324.2h2.8v1.6h-2.8zM509.3,324.8h2.8v4.8h-2.8zM510.3,324.8h2.8v1.1h-2.8zM511.3,321.9h2.8v4.6h-2.8zM512.3,324.1h2.8v2.2h-2.8zM513.3,323.0h2.8v6.7h-2.8zM514.3,319.0h2.8v5.3h-2.8zM515.3,314.7h2.8v7.5h-2.8zM516.3,313.1h2.8v8.5h-2.8zM517.3,313.0h2.8v3.1h-2.8zM518.3,315.2h2.8v5.8h-2.8zM519.3,317.3h2.8v6.0h-2.8zM520.3,319.3h2.8v2.4h-2.8zM521.3,320.6h2.8v2.4h-2.8zM522.3,322.3h2.8v2.2h-2.8zM523.3,323.8h2.8v2.3h-2.8zM524.3,325.4h2.8v2.5h-2.8zM525.3,325.0h2.8v2.8h-2.8zM526.3,323.1h2.8v2.7h-2.8zM527.3,322.7h2.8v1.7h-2.8zM528.3,323.5h2.8v2.3h-2.8zM529.3,324.6h2.8v2.5h-2.8zM530.3,326.2h2.8v2.7h-2.8zM531.3,327.5h2.8v2.5h-2.8zM532.3,328.9h2.8v3.5h-2.8zM533.3,331.5h2.8v4.2h-2.8zM534.3,334.2h2.8v4.4h-2.8zM535.3,337.5h2.8v3.9h-2.8zM536.3,340.4h2.8v2.0h-2.8zM537.3,341.6h2.8v1.2h-2.8zM538.3,341.9h2.8v6.5h-2.8zM539.3,342.5h2.8v3.8h-2.8zM540.3,343.5h2.8v1.1h-2.8zM541.3,343.3h2.8v4.3h-2.8zM542.3,347.0h2.8v5.1h-2.8zM543.3,350.8h2.8v7.8h-2.8zM544.3,354.5h2.8v1.9h-2.8zM545.3,349.0h2.8v6.2h-2.8zM546.3,351.3h2.8v1.8h-2.8zM547.3,349.8h2.8v5.4h-2.8zM548.3,351.1h2.8v6.8h-2.8zM549.3,357.0h2.8v6.5h-2.8zM550.3,363.1h2.8v6.4h-2.8zM551.3,368.6h2.8v8.3h-2.8zM552.3,373.7h2.8v8.1h-2.8zM553.3,374.0h2.8v5.5h-2.8zM554.3,370.3h2.8v4.7h-2.8zM555.3,365.9h2.8v4.9h-2.8zM556.3,361.0h2.8v9.5h-2.8zM557.3,360.4h2.8v2.1h-2.8zM558.3,361.6h2.8v3.7h-2.8zM559.3,361.9h2.8v6.2h-2.8zM560.3,367.1h2.8v6.1h-2.8zM561.3,369.6h2.8v3.9h-2.8zM562.3,372.4h2.8v3.6h-2.8zM563.3,375.1h2.8v3.3h-2.8zM564.3,375.5h2.8v4.5h-2.8zM565.3,372.1h2.8v6.0h-2.8zM566.3,366.8h2.8v5.8h-2.8zM567.3,366.9h2.8v1.8h-2.8zM568.3,364.4h2.8v5.4h-2.8zM569.3,367.0h2.8v3.5h-2.8zM570.3,369.9h2.8v1.4h-2.8zM571.3,370.3h2.8v1.9h-2.8zM572.3,371.0h2.8v1.9h-2.8zM573.3,372.1h2.8v1.3h-2.8zM574.3,369.8h2.8v4.7h-2.8zM575.3,373.3h2.8v5.7h-2.8zM576.3,370.2h2.8v8.8h-2.8zM577.3,377.6h2.8v6.1h-2.8zM578.3,382.8h2.8v7.2h-2.8zM579.3,387.7h2.8v3.1h-2.8zM580.3,389.7h2.8v1.9h-2.8zM581.3,391.2h2.8v2.0h-2.8zM582.3,392.6h2.8v2.0h-2.8zM585.3,355.2h2.8v10.1h-2.8zM586.3,359.4h2.8v8.9h-2.8zM587.3,367.6h2.8v8.5h-2.8zM588.3,370.4h2.8v6.0h-2.8zM589.3,364.6h2.8v8.9h-2.8zM590.3,359.1h2.8v6.7h-2.8zM591.3,358.6h2.8v5.3h-2.8zM592.3,362.8h2.8v6.8h-2.8zM593.3,368.7h2.8v6.6h-2.8zM594.3,374.0h2.8v0.8h-2.8zM595.3,373.8h2.8v1.3h-2.8zM596.3,371.6h2.8v3.1h-2.8zM597.3,373.3h2.8v1.0h-2.8zM598.3,373.2h2.8v2.3h-2.8zM599.3,375.2h2.8v2.1h-2.8zM600.3,376.6h2.8v2.6h-2.8zM601.3,378.6h2.8v2.4h-2.8zM602.3,379.6h2.8v2.5h-2.8zM603.3,379.2h2.8v4.2h-2.8zM604.3,382.0h2.8v2.6h-2.8zM605.3,383.7h2.8v2.5h-2.8zM606.3,385.5h2.8v1.8h-2.8zM607.3,386.4h2.8v2.3h-2.8zM608.3,387.7h2.8v2.3h-2.8zM609.3,389.3h2.8v2.0h-2.8zM610.3,390.3h2.8v2.7h-2.8zM611.3,390.9h2.8v2.5h-2.8zM612.3,386.4h2.8v5.2h-2.8zM613.3,381.5h2.8v5.7h-2.8zM614.3,377.0h2.8v5.6h-2.8zM615.3,376.2h2.8v3.4h-2.8zM616.3,376.2h2.8v8.1h-2.8zM617.3,383.8h2.8v2.8h-2.8zM618.3,379.4h2.8v5.3h-2.8zM619.3,375.7h2.8v4.8h-2.8zM620.3,371.8h2.8v5.0h-2.8zM621.3,371.6h2.8v6.1h-2.8zM622.3,374.0h2.8v3.6h-2.8zM623.3,376.6h2.8v4.3h-2.8zM624.3,376.5h2.8v6.1h-2.8zM625.3,377.3h2.8v5.1h-2.8zM626.3,373.8h2.8v4.0h-2.8zM627.3,369.8h2.8v4.9h-2.8zM628.3,366.6h2.8v4.3h-2.8zM629.3,364.6h2.8v2.5h-2.8zM630.3,361.3h2.8v4.1h-2.8zM631.3,361.8h2.8v2.3h-2.8zM632.3,360.3h2.8v3.7h-2.8zM633.3,359.5h2.8v1.6h-2.8zM634.3,359.5h2.8v3.0h-2.8zM635.3,358.9h2.8v1.4h-2.8zM636.3,358.5h2.8v1.1h-2.8zM637.3,358.1h2.8v3.0h-2.8zM638.3,357.9h2.8v1.5h-2.8zM639.3,356.7h2.8v2.6h-2.8zM640.3,353.3h2.8v4.4h-2.8zM641.3,345.7h2.8v8.2h-2.8zM642.3,342.3h2.8v8.7h-2.8zM643.3,343.4h2.8v4.7h-2.8zM644.3,334.4h2.8v9.9h-2.8zM645.3,331.4h2.8v7.8h-2.8zM646.3,328.9h2.8v5.3h-2.8zM647.3,330.0h2.8v4.5h-2.8zM648.3,333.7h2.8v5.1h-2.8zM649.3,337.8h2.8v3.6h-2.8zM650.3,337.2h2.8v6.0h-2.8zM651.3,330.7h2.8v7.4h-2.8zM652.3,330.1h2.8v5.4h-2.8zM653.3,334.3h2.8v4.4h-2.8zM654.3,337.9h2.8v4.1h-2.8zM655.3,341.2h2.8v3.3h-2.8zM656.3,336.5h2.8v5.9h-2.8zM657.3,331.3h2.8v7.9h-2.8zM658.3,326.6h2.8v5.4h-2.8zM659.3,322.5h2.8v4.9h-2.8zM660.3,318.6h2.8v7.4h-2.8zM661.3,314.6h2.8v5.1h-2.8zM662.3,310.9h2.8v4.6h-2.8zM663.3,311.1h2.8v0.7h-2.8zM664.3,310.5h2.8v2.8h-2.8zM665.3,310.5h2.8v1.5h-2.8zM666.3,310.0h2.8v4.2h-2.8zM667.3,309.7h2.8v5.3h-2.8zM668.3,314.2h2.8v6.8h-2.8zM669.3,319.8h2.8v6.6h-2.8zM670.3,325.3h2.8v3.2h-2.8zM671.3,322.3h2.8v3.8h-2.8zM672.3,320.3h2.8v3.6h-2.8zM673.3,317.5h2.8v3.3h-2.8zM674.3,314.7h2.8v3.8h-2.8zM675.3,308.1h2.8v7.4h-2.8zM676.3,310.0h2.8v3.3h-2.8zM677.3,307.9h2.8v2.8h-2.8zM678.3,302.0h2.8v6.6h-2.8zM679.3,298.3h2.8v4.7h-2.8zM680.3,299.3h2.8v4.0h-2.8zM681.3,302.3h2.8v5.9h-2.8zM682.3,305.0h2.8v2.5h-2.8zM683.3,305.7h2.8v1.7h-2.8zM684.3,305.0h2.8v1.4h-2.8zM685.3,304.2h2.8v1.4h-2.8zM686.3,304.2h2.8v3.6h-2.8zM687.3,306.9h2.8v2.4h-2.8zM688.3,308.7h2.8v6.1h-2.8zM689.3,308.5h2.8v5.2h-2.8zM690.3,305.9h2.8v3.4h-2.8zM691.3,302.9h2.8v4.0h-2.8zM692.3,299.6h2.8v4.6h-2.8zM693.3,296.2h2.8v4.6h-2.8zM694.3,293.3h2.8v4.3h-2.8zM695.3,288.9h2.8v5.0h-2.8zM696.3,283.7h2.8v6.6h-2.8zM697.3,278.2h2.8v6.7h-2.8zM698.3,273.4h2.8v6.0h-2.8zM699.3,264.2h2.8v10.0h-2.8zM700.3,260.9h2.8v8.2h-2.8zM701.3,262.9h2.8v2.8h-2.8zM702.3,260.4h2.8v3.5h-2.8zM703.3,251.5h2.8v10.0h-2.8zM704.3,242.7h2.8v13.6h-2.8zM706.3,221.6h2.8v11.2h-2.8zM707.3,230.1h2.8v23.4h-2.8zM708.3,246.8h2.8v13.3h-2.8zM709.3,258.1h2.8v1.5h-2.8zM710.3,256.7h2.8v1.7h-2.8zM711.3,256.6h2.8v4.2h-2.8zM712.3,257.0h2.8v2.1h-2.8zM713.3,257.6h2.8v2.2h-2.8zM714.3,254.7h2.8v5.6h-2.8zM715.3,241.6h2.8v14.2h-2.8zM716.3,239.6h2.8v8.8h-2.8zM717.3,237.4h2.8v3.4h-2.8zM718.3,235.9h2.8v2.4h-2.8zM719.3,229.3h2.8v7.4h-2.8zM720.3,232.5h2.8v2.4h-2.8zM721.3,230.4h2.8v2.4h-2.8zM722.3,225.8h2.8v5.3h-2.8zM723.3,228.2h2.8v6.0h-2.8zM724.3,233.1h2.8v6.2h-2.8zM725.3,236.9h2.8v2.8h-2.8zM726.3,231.0h2.8v6.7h-2.8zM727.3,228.8h2.8v7.0h-2.8zM728.3,231.6h2.8v2.0h-2.8zM729.3,228.8h2.8v6.4h-2.8zM730.3,227.2h2.8v10.6h-2.8zM731.3,217.8h2.8v10.5h-2.8zM732.3,211.9h2.8v8.3h-2.8zM733.3,207.6h2.8v4.9h-2.8zM734.3,204.4h2.8v4.2h-2.8zM735.3,201.6h2.8v3.1h-2.8zM736.3,187.0h2.8v15.3h-2.8zM737.3,181.0h2.8v11.7h-2.8zM738.3,174.1h2.8v7.7h-2.8zM739.3,167.5h2.8v7.4h-2.8zM740.3,167.1h2.8v7.9h-2.8zM741.3,173.7h2.8v13.6h-2.8zM742.3,180.3h2.8v7.1h-2.8zM743.3,184.5h2.8v2.7h-2.8zM744.3,186.4h2.8v4.9h-2.8zM745.3,178.1h2.8v9.4h-2.8zM746.3,167.6h2.8v10.7h-2.8zM747.3,173.7h2.8v13.4h-2.8zM748.3,180.7h2.8v13.4h-2.8zM749.3,193.7h2.8v20.9h-2.8zM750.3,200.8h2.8v12.6h-2.8zM751.3,196.5h2.8v14.9h-2.8zM752.3,209.9h2.8v12.7h-2.8zM753.3,209.4h2.8v15.3h-2.8zM754.3,198.2h2.8v11.9h-2.8zM755.3,188.2h2.8v11.3h-2.8zM756.3,178.7h2.8v10.8h-2.8zM757.3,170.9h2.8v8.8h-2.8zM758.3,167.9h2.8v5.2h-2.8zM759.3,168.3h2.8v12.6h-2.8zM760.3,175.9h2.8v11.6h-2.8zM761.3,178.1h2.8v8.2h-2.8zM762.3,167.7h2.8v11.2h-2.8zM763.3,171.0h2.8v4.2h-2.8zM764.3,171.4h2.8v7.4h-2.8zM765.3,177.5h2.8v7.2h-2.8zM766.3,172.1h2.8v6.2h-2.8zM767.3,167.0h2.8v5.9h-2.8zM768.3,161.7h2.8v6.0h-2.8zM769.3,156.1h2.8v9.5h-2.8zM770.3,152.7h2.8v4.1h-2.8zM771.3,150.1h2.8v2.7h-2.8zM772.3,150.0h2.8v2.8h-2.8zM773.3,151.7h2.8v7.7h-2.8zM774.3,152.4h2.8v2.0h-2.8zM775.3,151.3h2.8v2.0h-2.8zM776.3,149.9h2.8v2.1h-2.8zM777.3,149.5h2.8v1.2h-2.8zM778.3,144.4h2.8v6.5h-2.8zM779.3,137.0h2.8v8.3h-2.8zM780.3,128.6h2.8v9.8h-2.8zM781.3,132.1h2.8v1.0h-2.8zM782.3,132.2h2.8v6.2h-2.8zM783.3,131.6h2.8v1.7h-2.8zM784.3,129.2h2.8v3.8h-2.8zM785.3,127.1h2.8v3.0h-2.8zM786.3,121.0h2.8v7.1h-2.8zM787.3,114.0h2.8v10.8h-2.8zM788.3,112.3h2.8v4.6h-2.8zM789.3,110.7h2.8v2.7h-2.8zM790.3,109.5h2.8v2.5h-2.8zM791.3,108.7h2.8v4.2h-2.8zM792.3,112.3h2.8v4.5h-2.8zM793.3,116.0h2.8v3.3h-2.8zM794.3,111.7h2.8v5.8h-2.8zM795.3,102.1h2.8v10.7h-2.8zM796.3,103.1h2.8v8.5h-2.8zM797.3,98.6h2.8v5.1h-2.8zM798.3,96.3h2.8v8.4h-2.8zM799.3,90.9h2.8v6.3h-2.8zM800.3,91.9h2.8v4.3h-2.8zM801.3,83.3h2.8v10.1h-2.8zM802.3,72.8h2.8v11.3h-2.8zM803.3,60.8h2.8v12.7h-2.8zM804.3,60.7h2.8v8.1h-2.8zM805.3,68.4h2.8v8.0h-2.8zM806.3,75.1h2.8v3.8h-2.8zM807.3,72.7h2.8v4.6h-2.8zM808.3,67.3h2.8v6.6h-2.8zM809.3,72.9h2.8v14.0h-2.8zM810.3,86.2h2.8v5.7h-2.8zM811.3,74.0h2.8v13.2h-2.8zM812.3,72.0h2.8v7.3h-2.8zM813.3,72.7h2.8v3.4h-2.8zM814.3,75.6h2.8v7.6h-2.8zM815.3,78.5h2.8v6.8h-2.8zM816.3,81.6h2.8v8.2h-2.8zM817.3,88.5h2.8v6.9h-2.8zM818.3,86.4h2.8v6.4h-2.8zM819.3,87.9h2.8v2.8h-2.8zM820.3,85.2h2.8v8.2h-2.8zM821.3,80.1h2.8v6.1h-2.8zM822.3,70.0h2.8v11.3h-2.8zM823.3,70.1h2.8v9.6h-2.8zM824.3,70.2h2.8v3.0h-2.8zM825.3,69.5h2.8v5.8h-2.8zM826.3,71.7h2.8v5.7h-2.8zM827.3,76.6h2.8v1.8h-2.8zM828.3,77.8h2.8v2.0h-2.8zM829.3,78.9h2.8v2.0h-2.8zM830.3,80.1h2.8v2.2h-2.8zM831.3,81.2h2.8v8.5h-2.8zM832.3,84.7h2.8v5.2h-2.8zM833.3,88.8h2.8v6.0h-2.8zM834.3,93.9h2.8v8.0h-2.8zM835.3,101.3h2.8v13.2h-2.8zM836.3,111.2h2.8v16.4h-2.8zM837.3,122.2h2.8v13.0h-2.8zM838.3,119.3h2.8v11.9h-2.8zM839.3,114.4h2.8v5.7h-2.8zM840.3,111.8h2.8v3.8h-2.8zM841.3,110.6h2.8v2.5h-2.8zM842.3,107.7h2.8v10.9h-2.8zM843.3,117.8h2.8v6.2h-2.8zM844.3,123.1h2.8v5.0h-2.8zM845.3,127.2h2.8v4.5h-2.8zM846.3,131.0h2.8v7.6h-2.8zM847.3,126.4h2.8v10.4h-2.8zM848.3,123.2h2.8v7.8h-2.8zM849.3,116.7h2.8v7.7h-2.8zM850.3,113.7h2.8v3.8h-2.8zM851.3,115.5h2.8v4.0h-2.8zM852.3,118.3h2.8v4.1h-2.8zM853.3,121.4h2.8v2.4h-2.8zM854.3,121.4h2.8v2.2h-2.8zM855.3,120.1h2.8v2.4h-2.8zM856.3,115.6h2.8v5.6h-2.8zM857.3,118.0h2.8v1.6h-2.8zM858.3,119.2h2.8v3.1h-2.8zM859.3,121.1h2.8v9.0h-2.8zM860.3,123.5h2.8v3.8h-2.8zM861.3,126.6h2.8v11.8h-2.8zM862.3,134.4h2.8v8.9h-2.8zM863.3,138.1h2.8v5.7h-2.8zM864.3,132.5h2.8v6.2h-2.8zM865.3,127.5h2.8v6.0h-2.8zM866.3,122.8h2.8v5.0h-2.8zM867.3,123.4h2.8v8.1h-2.8zM868.3,125.2h2.8v12.3h-2.8zM869.3,136.4h2.8v6.4h-2.8zM870.3,136.9h2.8v4.3h-2.8zM871.3,134.8h2.8v6.1h-2.8zM872.3,133.1h2.8v2.6h-2.8zM873.3,133.6h2.8v8.3h-2.8zM874.3,136.7h2.8v4.1h-2.8zM875.3,139.9h2.8v4.7h-2.8zM876.3,143.8h2.8v12.5h-2.8zM877.3,148.2h2.8v3.5h-2.8zM878.3,144.9h2.8v3.9h-2.8zM879.3,142.6h2.8v3.5h-2.8zM880.3,139.5h2.8v5.2h-2.8zM881.3,139.0h2.8v5.6h-2.8zM882.3,144.0h2.8v7.7h-2.8zM883.3,150.2h2.8v7.4h-2.8zM884.3,146.8h2.8v9.6h-2.8zM885.3,137.5h2.8v9.9h-2.8zM886.3,128.7h2.8v9.4h-2.8zM887.3,128.6h2.8v4.4h-2.8zM888.3,127.9h2.8v1.7h-2.8zM889.3,124.8h2.8v3.4h-2.8zM890.3,125.5h2.8v1.6h-2.8zM891.3,122.7h2.8v5.4h-2.8zM892.3,119.7h2.8v3.8h-2.8zM893.3,117.3h2.8v3.6h-2.8zM894.3,110.4h2.8v7.5h-2.8zM895.3,114.0h2.8v6.3h-2.8zM896.3,112.1h2.8v5.0h-2.8zM897.3,115.9h2.8v2.0h-2.8zM898.3,117.1h2.8v3.7h-2.8zM899.3,120.0h2.8v5.3h-2.8zM900.3,124.1h2.8v7.7h-2.8zM901.3,131.4h2.8v9.7h-2.8zM902.3,140.1h2.8v9.6h-2.8zM903.3,137.8h2.8v5.6h-2.8zM904.3,133.6h2.8v5.1h-2.8zM905.3,131.3h2.8v3.1h-2.8zM906.3,128.5h2.8v3.2h-2.8zM907.3,125.9h2.8v3.7h-2.8zM908.3,126.3h2.8v3.2h-2.8zM909.3,128.4h2.8v6.1h-2.8zM910.3,127.1h2.8v5.8h-2.8zM911.3,130.1h2.8v4.6h-2.8zM912.3,127.0h2.8v3.7h-2.8zM913.3,124.5h2.8v3.1h-2.8zM914.3,121.8h2.8v3.1h-2.8zM915.3,118.8h2.8v3.6h-2.8zM916.3,117.4h2.8v2.4h-2.8zM917.3,118.9h2.8v4.2h-2.8zM918.3,122.2h2.8v5.8h-2.8zM919.3,124.8h2.8v3.6h-2.8zM920.3,127.3h2.8v2.8h-2.8zM921.3,120.7h2.8v7.5h-2.8zM922.3,116.0h2.8v5.8h-2.8zM923.3,116.1h2.8v1.1h-2.8zM924.3,116.1h2.8v0.7h-2.8zM925.3,116.0h2.8v3.2h-2.8zM926.3,116.3h2.8v2.4h-2.8zM927.3,117.6h2.8v2.5h-2.8zM928.3,119.7h2.8v2.7h-2.8zM929.3,121.4h2.8v5.2h-2.8zM930.3,124.7h2.8v6.2h-2.8zM931.3,127.5h2.8v4.4h-2.8zM932.3,130.6h2.8v3.9h-2.8zM933.3,133.1h2.8v3.0h-2.8zM934.3,134.5h2.8v4.9h-2.8zM935.3,134.3h2.8v5.1h-2.8zM936.3,132.9h2.8v2.4h-2.8zM937.3,131.5h2.8v6.4h-2.8zM938.3,128.3h2.8v4.2h-2.8zM939.3,125.6h2.8v3.8h-2.8zM940.3,119.3h2.8v7.0h-2.8zM941.3,119.1h2.8v8.1h-2.8zM942.7,117.0h2.0v2.0h-2.0zM946.7,120.5h2.0v4.8h-2.0zM948.7,110.2h2.0v3.0h-2.0zM951.7,96.9h2.0v3.4h-2.0zM952.7,98.5h2.0v3.2h-2.0zM953.3,98.7h2.8v3.7h-2.8zM954.3,101.4h2.8v1.4h-2.8zM955.3,100.7h2.8v1.5h-2.8zM956.3,99.4h2.8v4.2h-2.8zM957.3,99.1h2.8v1.6h-2.8zM958.3,99.2h2.8v0.6h-2.8zM959.3,99.2h2.8v1.0h-2.8zM960.3,99.4h2.8v0.8h-2.8zM961.3,99.4h2.8v1.3h-2.8zM962.3,80.1h2.8v20.4h-2.8zM963.3,75.6h2.8v5.8h-2.8zM964.3,75.4h2.8v8.3h-2.8zM965.3,73.3h2.8v3.3h-2.8zM966.3,68.1h2.8v6.4h-2.8zM967.3,68.5h2.8v5.4h-2.8zM968.3,64.8h2.8v4.1h-2.8zM970.3,50.6h2.8v5.0h-2.8zM971.3,54.4h2.8v3.5h-2.8zM972.3,57.2h2.8v3.7h-2.8zM973.3,60.1h2.8v5.0h-2.8zM974.3,64.2h2.8v5.0h-2.8zM975.3,62.8h2.8v6.3h-2.8zM976.3,52.4h2.8v11.5h-2.8zM977.3,55.6h2.8v6.3h-2.8zM978.3,60.2h2.8v9.9h-2.8zM979.3,66.8h2.8v7.9h-2.8zM980.3,73.8h2.8v5.8h-2.8zM981.3,71.4h2.8v5.6h-2.8zM982.3,66.6h2.8v6.3h-2.8zM983.3,61.9h2.8v6.2h-2.8zM984.3,58.6h2.8v8.8h-2.8zM985.3,60.2h2.8v4.7h-2.8zM986.3,64.2h2.8v4.6h-2.8zM987.3,63.7h2.8v6.9h-2.8zM988.3,69.5h2.8v2.0h-2.8zM989.3,70.3h2.8v2.8h-2.8zM990.3,69.4h2.8v4.0h-2.8zM991.3,63.5h2.8v6.7h-2.8zM992.3,64.7h2.8v3.2h-2.8zM993.3,63.7h2.8v1.9h-2.8zM994.3,64.8h2.8v6.5h-2.8zM995.3,66.4h2.8v2.0h-2.8zM996.3,63.3h2.8v5.8h-2.8zM997.3,56.2h2.8v11.2h-2.8zM998.3,48.9h2.8v10.8h-2.8zM999.3,48.1h2.8v4.1h-2.8zM1000.3,51.4h2.8v7.1h-2.8zM1001.3,54.5h2.8v4.4h-2.8zM1002.3,57.8h2.8v3.5h-2.8zM1003.3,60.0h2.8v8.7h-2.8zM1004.3,60.6h2.8v8.8h-2.8zM1005.3,68.6h2.8v6.6h-2.8zM1006.3,74.7h2.8v1.0h-2.8zM1007.3,74.9h2.8v2.1h-2.8zM1008.3,75.9h2.8v3.4h-2.8zM1009.3,77.7h2.8v4.2h-2.8zM1010.3,80.2h2.8v3.8h-2.8zM1011.3,78.6h2.8v5.8h-2.8zM1012.3,71.6h2.8v8.4h-2.8zM1013.3,65.4h2.8v6.8h-2.8zM1014.3,60.4h2.8v10.2h-2.8zM1015.3,57.3h2.8v4.1h-2.8zM1016.3,58.0h2.8v5.4h-2.8zM1017.3,57.8h2.8v8.1h-2.8zM1018.3,49.6h2.8v9.6h-2.8zM1019.3,47.9h2.8v3.1h-2.8zM1020.3,48.7h2.8v3.4h-2.8zM1021.3,50.6h2.8v3.1h-2.8zM1022.3,50.6h2.8v3.1h-2.8zM1023.3,51.5h2.8v1.6h-2.8zM1024.3,51.2h2.8v7.1h-2.8zM1025.3,53.0h2.8v3.1h-2.8zM1026.3,50.5h2.8v9.4h-2.8zM1027.3,59.0h2.8v5.4h-2.8zM1028.3,55.5h2.8v8.3h-2.8zM1029.3,49.7h2.8v7.0h-2.8zM1030.3,46.3h2.8v4.9h-2.8zM1031.7,44.6h2.0v3.3h-2.0zM1032.7,44.5h2.0v3.4h-2.0zM1033.7,44.8h2.0v3.1h-2.0zM1034.7,45.5h2.0v3.2h-2.0z" fill="#d0023a" stroke="#d0023a" stroke-width="1.0" stroke-linejoin="round" shape-rendering="auto"/>
<path d="M26.4,723.7L27.1,722.0M33.4,726.4L34.1,723.0M35.5,716.3L36.2,714.8M40.4,708.9L41.1,707.9M45.3,706.0L46.0,704.1M48.1,702.3L48.8,699.9M48.8,699.9L49.5,698.2M50.2,697.8L50.9,693.3M56.5,694.9L57.2,693.0M60.0,691.4L60.7,686.8M62.8,676.3L63.5,673.6M64.9,670.0L65.6,668.8M66.3,667.0L67.0,665.8M68.4,641.1L69.1,631.5M69.1,631.5L69.8,624.2M69.8,624.2L70.5,619.1M76.1,632.2L76.8,631.1M78.2,633.0L78.9,630.0M81.7,621.5L82.4,607.3M83.8,575.7L84.5,568.1M85.2,568.2L85.9,565.6M85.9,565.6L86.6,545.7M86.6,545.7L87.3,531.3M88.0,521.6L88.7,513.4M94.3,545.3L95.0,543.2M99.9,509.6L100.6,496.1M100.6,496.1L101.3,481.2M101.3,481.2L102.0,465.8M109.0,501.5L109.7,491.9M110.4,483.1L111.1,475.5M113.9,470.5L114.6,457.9M114.6,457.9L115.3,450.1M115.3,450.1L116.0,445.9M116.0,445.9L116.7,442.9M116.7,442.9L117.4,441.2M117.4,441.2L118.1,438.6M136.3,499.8L137.0,498.4M149.6,543.5L150.3,538.7M150.3,538.7L151.0,533.4M151.0,533.4L151.7,525.7M151.7,525.7L152.4,515.4M153.1,504.7L153.8,498.2M156.6,502.9L157.3,500.9M157.3,500.9L158.0,498.0M158.7,492.1L159.4,486.3M159.4,486.3L160.1,481.3M165.7,494.9L166.4,492.7M167.8,490.5L168.5,485.8M170.6,477.6L171.3,473.6M171.3,473.6L172.0,468.3M176.9,456.8L177.6,453.1M177.6,453.1L178.3,450.5M179.0,448.8L179.7,445.2M182.5,460.8L183.2,456.8M183.9,455.1L184.6,452.4M185.3,446.2L186.0,442.1M186.7,437.1L187.4,432.1M187.4,432.1L188.1,429.7M188.1,429.7L188.8,423.3M190.2,412.0L190.9,406.9M193.0,441.5L193.7,430.1M195.1,409.7L195.8,408.5M196.5,405.6L197.2,402.3M203.5,381.4L204.2,375.1M204.2,375.1L204.9,370.1M205.6,365.4L206.3,359.7M206.3,359.7L207.0,353.3M207.0,353.3L207.7,345.6M207.7,345.6L208.4,336.2M209.8,320.8L210.5,314.5M210.5,314.5L211.2,305.8M212.6,276.7L213.3,243.9M218.9,287.9L219.6,283.8M219.6,283.8L220.3,260.6M222.4,246.7L223.1,235.0M225.2,243.7L225.9,238.6M226.6,231.3L227.3,219.9M235.7,294.4L236.4,289.7M244.1,305.9L244.8,300.5M244.8,300.5L245.5,294.1M245.5,294.1L246.2,290.6M249.7,321.8L250.4,320.0M256.0,356.2L256.7,349.9M256.7,349.9L257.4,344.4M260.9,364.6L261.6,354.6M261.6,354.6L262.3,344.3M262.3,344.3L263.0,323.1M263.0,323.1L263.7,298.5M264.4,292.1L265.1,287.9M268.6,306.8L269.3,301.4M270.0,294.4L270.7,288.2M281.9,308.3L282.6,304.6M290.3,331.2L291.0,328.9M291.0,328.9L291.7,326.4M291.7,326.4L292.4,321.1M292.4,321.1L293.1,319.7M295.9,326.9L296.6,324.9M296.6,324.9L297.3,323.6M297.3,323.6L298.0,321.2M312.7,374.7L313.4,366.3M316.9,355.8L317.6,354.8M318.3,358.5L319.0,353.4M319.0,353.4L319.7,352.3M327.4,348.7L328.1,345.3M328.1,345.3L328.8,342.8M328.8,342.8L329.5,338.6M335.1,345.8L335.8,343.6M336.5,343.6L337.2,340.4M340.7,328.4L341.4,321.9M344.9,320.1L345.6,319.0M345.6,319.0L346.3,316.8M346.3,316.8L347.0,314.2M350.5,321.3L351.2,317.8M351.2,317.8L351.9,313.6M351.9,313.6L352.6,309.5M352.6,309.5L353.3,300.3M356.8,300.3L357.5,295.2M370.1,307.6L370.8,301.9M377.8,303.5L378.5,301.0M381.3,318.0L382.0,312.0M382.0,312.0L382.7,309.3M400.9,329.3L401.6,325.2M402.3,324.0L403.0,319.9M412.8,338.8L413.5,337.2M413.5,337.2L414.2,332.5M421.9,328.0L422.6,323.0M429.6,335.0L430.3,333.4M438.7,336.9L439.4,335.7M440.1,335.2L440.8,333.4M449.2,346.9L449.9,345.6M449.9,345.6L450.6,342.3M461.1,352.2L461.8,351.2M463.2,353.4L463.9,351.0M464.6,353.3L465.3,350.4M466.0,346.0L466.7,339.8M468.8,328.4L469.5,323.7M475.1,335.3L475.8,333.1M475.8,333.1L476.5,331.2M477.2,329.6L477.9,325.8M477.9,325.8L478.6,322.7M484.2,329.6L484.9,328.4M498.2,330.7L498.9,329.1M516.4,321.8L517.1,319.9M526.9,325.5L527.6,323.5M529.0,325.3L529.7,323.8M545.8,356.4L546.5,354.2M554.2,378.3L554.9,374.3M555.6,372.9L556.3,368.4M557.0,367.7L557.7,363.3M557.7,363.3L558.4,361.6M580.8,390.6L581.5,389.1M584.3,391.6L585.0,378.7M585.0,378.7L585.7,362.8M595.5,375.7L596.2,372.9M615.8,380.3L616.5,377.4M620.0,379.9L620.7,378.7M620.7,378.7L621.4,374.2M621.4,374.2L622.1,372.9M627.0,379.7L627.7,374.3M628.4,373.7L629.1,370.7M629.1,370.7L629.8,368.1M629.8,368.1L630.5,365.2M631.2,365.9L631.9,363.7M641.7,357.0L642.4,352.3M643.8,349.1L644.5,344.4M645.2,345.3L645.9,339.4M645.9,339.4L646.6,336.3M650.8,341.1L651.5,339.4M653.6,335.9L654.3,333.8M657.1,342.4L657.8,340.6M657.8,340.6L658.5,334.1M659.2,333.3L659.9,329.6M659.9,329.6L660.6,327.4M671.8,327.4L672.5,324.8M674.6,321.3L675.3,317.0M676.7,315.9L677.4,311.2M679.5,308.1L680.2,300.4M684.4,306.9L685.1,304.9M692.8,304.6L693.5,303.2M694.2,302.3L694.9,299.3M697.7,286.8L698.4,281.4M698.4,281.4L699.1,278.5M705.4,253.9L706.1,249.1M706.8,236.6L707.5,223.6M715.2,260.2L715.9,257.8M715.9,257.8L716.6,253.9M716.6,253.9L717.3,248.2M718.0,243.2L718.7,238.7M721.5,235.4L722.2,233.3M722.2,233.3L722.9,231.5M726.4,238.2L727.1,237.0M727.1,237.0L727.8,235.4M732.7,221.7L733.4,214.9M733.4,214.9L734.1,213.8M734.1,213.8L734.8,211.2M736.2,204.9L736.9,203.8M737.6,199.5L738.3,189.6M739.0,183.9L739.7,179.1M739.7,179.1L740.4,172.7M740.4,172.7L741.1,169.8M743.9,186.3L744.6,184.4M746.0,189.4L746.7,182.0M747.4,177.0L748.1,172.1M751.6,207.6L752.3,200.6M755.8,201.6L756.5,196.9M757.2,188.3L757.9,181.9M759.3,171.4L760.0,169.4M762.8,180.8L763.5,178.0M763.5,178.0L764.2,172.8M769.8,165.8L770.5,160.9M771.2,158.4L771.9,155.1M776.8,153.8L777.5,152.6M778.9,152.1L779.6,148.5M779.6,148.5L780.3,145.3M780.3,145.3L781.0,138.0M781.0,138.0L781.7,134.5M787.3,127.0L788.0,121.0M790.8,113.4L791.5,109.4M795.0,118.9L795.7,114.4M795.7,114.4L796.4,110.0M799.2,100.6L799.9,98.8M799.9,98.8L800.6,96.5M802.0,95.9L802.7,87.4M804.8,66.6L805.5,62.3M807.6,79.1L808.3,76.9M813.2,80.0L813.9,71.8M818.8,94.6L819.5,92.1M820.9,89.3L821.6,87.7M824.4,73.7L825.1,72.1M839.1,129.9L839.8,122.6M841.9,113.0L842.6,109.6M848.2,135.4L848.9,134.1M850.3,124.2L851.0,118.2M851.0,118.2L851.7,113.1M856.6,123.2L857.3,121.3M865.0,138.5L865.7,137.0M872.7,137.1L873.4,134.0M879.7,146.1L880.4,144.0M881.1,142.5L881.8,141.4M881.8,141.4L882.5,138.4M887.4,136.4L888.1,132.3M888.1,132.3L888.8,130.3M888.8,130.3L889.5,127.1M890.2,127.5L890.9,125.8M893.7,120.9L894.4,119.2M894.4,119.2L895.1,117.4M904.2,143.2L904.9,140.2M905.6,135.8L906.3,134.1M906.3,134.1L907.0,130.1M907.7,131.4L908.4,127.3M908.4,127.3L909.1,125.6M912.6,132.0L913.3,130.4M916.1,123.7L916.8,120.7M916.8,120.7L917.5,117.5M922.4,125.7L923.1,122.0M923.1,122.0L923.8,117.7M923.8,117.7L924.5,115.2M925.2,118.3L925.9,117.3M935.7,135.9L936.4,134.6M939.2,133.1L939.9,128.7M939.9,128.7L940.6,126.9M941.3,127.0L942.0,125.2M943.4,120.7L944.1,118.0M947.6,124.2L948.3,118.1M949.7,112.1L950.4,109.5M951.1,108.9L951.8,105.4M955.3,103.6L956.0,100.9M960.2,100.4L960.9,97.8M966.5,75.7L967.2,74.0M970.0,65.0L970.7,48.8M976.3,69.9L977.0,65.8M977.7,58.5L978.4,54.0M981.9,78.4L982.6,75.1M983.3,72.1L984.0,69.9M984.0,69.9L984.7,65.4M991.7,71.5L992.4,69.2M992.4,69.2L993.1,66.3M998.7,60.0L999.4,56.2M1020.4,50.2L1021.1,48.7M1031.6,49.6L1032.3,45.4" fill="none" stroke="#1a0a0a" stroke-width="1.1" stroke-linecap="round" shape-rendering="auto"/>
<g><line x1="20" y1="439.5" x2="125" y2="439.5" stroke="#0000ff" stroke-width="1"/><line x1="20" y1="728.5" x2="125" y2="728.5" stroke="#0000ff" stroke-width="1"/><line x1="72.5" y1="440" x2="72.5" y2="728" stroke="#0000ff" stroke-width="1" stroke-dasharray="4,2"/><line x1="137" y1="196.5" x2="305" y2="196.5" stroke="#0000ff" stroke-width="1"/><line x1="137" y1="547.5" x2="305" y2="547.5" stroke="#0000ff" stroke-width="1"/><line x1="221.5" y1="197" x2="221.5" y2="547" stroke="#0000ff" stroke-width="1" stroke-dasharray="4,2"/><line x1="308" y1="282.5" x2="385" y2="282.5" stroke="#0000ff" stroke-width="1"/><line x1="308" y1="377.5" x2="385" y2="377.5" stroke="#0000ff" stroke-width="1"/><line x1="346.5" y1="283" x2="346.5" y2="377" stroke="#0000ff" stroke-width="1" stroke-dasharray="4,2"/><line x1="607" y1="306.5" x2="675" y2="306.5" stroke="#0000ff" stroke-width="1"/><line x1="607" y1="395.5" x2="675" y2="395.5" stroke="#0000ff" stroke-width="1"/><line x1="641.5" y1="307" x2="641.5" y2="395" stroke="#0000ff" stroke-width="1" stroke-dasharray="4,2"/><line x1="703" y1="165.5" x2="749" y2="165.5" stroke="#0000ff" stroke-width="1"/><line x1="703" y1="332.5" x2="749" y2="332.5" stroke="#0000ff" stroke-width="1"/><line x1="726.5" y1="166" x2="726.5" y2="332" stroke="#0000ff" stroke-width="1" stroke-dasharray="4,2"/><line x1="753" y1="57.5" x2="818" y2="57.5" stroke="#0000ff" stroke-width="1"/><line x1="753" y1="226.5" x2="818" y2="226.5" stroke="#0000ff" stroke-width="1"/><line x1="785.5" y1="58" x2="785.5" y2="226" stroke="#0000ff" stroke-width="1" stroke-dasharray="4,2"/><line x1="929" y1="43.5" x2="980" y2="43.5" stroke="#0000ff" stroke-width="1"/><line x1="929" y1="139.5" x2="980" y2="139.5" stroke="#0000ff" stroke-width="1"/><line x1="954.5" y1="44" x2="954.5" y2="139" stroke="#0000ff" stroke-width="1" stroke-dasharray="4,2"/></g>
<g fill="#000" stroke-width="0.15" shape-rendering="auto"><rect x="51.9" y="576.2" width="39.3" height="13" fill="#fff"/><text x="53.9" y="586.3" font-size="9.8" stroke="#000" textLength="35.3" lengthAdjust="spacingAndGlyphs">464.2%</text><rect x="199.8" y="365.9" width="39.3" height="13" fill="#fff"/><text x="201.8" y="376.0" font-size="9.8" stroke="#000" textLength="35.3" lengthAdjust="spacingAndGlyphs">717.8%</text><rect x="329.2" y="324.7" width="32.6" height="13" fill="#fff"/><text x="331.2" y="334.8" font-size="9.8" stroke="#000" textLength="28.6" lengthAdjust="spacingAndGlyphs">76.6%</text><rect x="622.9" y="345.5" width="33.1" height="13" fill="#fff"/><text x="624.9" y="355.6" font-size="9.8" stroke="#000" textLength="29.1" lengthAdjust="spacingAndGlyphs">69.4%</text><rect x="706.0" y="243.2" width="38.0" height="13" fill="#fff"/><text x="708.0" y="253.3" font-size="9.8" stroke="#000" textLength="34.0" lengthAdjust="spacingAndGlyphs">170.1%</text><rect x="765.7" y="136.7" width="38.1" height="13" fill="#fff"/><text x="767.7" y="146.8" font-size="9.8" stroke="#000" textLength="34.1" lengthAdjust="spacingAndGlyphs">173.4%</text><rect x="937.2" y="85.3" width="32.5" height="13" fill="#fff"/><text x="939.2" y="95.4" font-size="9.8" stroke="#000" textLength="28.5" lengthAdjust="spacingAndGlyphs">76.6%</text></g>
<g fill="#0000ff" shape-rendering="auto"><text x="115.0" y="714.1" font-size="14.5" textLength="51.0" lengthAdjust="spacingAndGlyphs">4y, 10m</text><text x="225.8" y="568.7" font-size="14.5" textLength="42.4" lengthAdjust="spacingAndGlyphs">3y, 5m</text><text x="341.6" y="394.5" font-size="14.5" textLength="42.8" lengthAdjust="spacingAndGlyphs">2y, 9m</text><text x="681.8" y="400.1" font-size="14.5" textLength="42.5" lengthAdjust="spacingAndGlyphs">2y, 9m</text><text x="750.8" y="338.5" font-size="14.5" textLength="42.4" lengthAdjust="spacingAndGlyphs">3y, 9m</text><text x="823.7" y="232.8" font-size="14.5" textLength="42.6" lengthAdjust="spacingAndGlyphs">2y, 9m</text><text x="985.7" y="143.0" font-size="14.5" textLength="13.9" lengthAdjust="spacingAndGlyphs">2y</text></g>
<g shape-rendering="auto" stroke="#000" stroke-width="0.2">
<text x="16.5" y="14" font-size="14" font-weight="bold" textLength="42.7" lengthAdjust="spacingAndGlyphs">$GOLD</text>
<text x="63.7" y="12.7" font-size="10.5" textLength="161.3" lengthAdjust="spacingAndGlyphs">Gold - Continuous Contract (EOD)</text>
<text x="230.5" y="12.7" font-size="8.6" textLength="21.8" lengthAdjust="spacingAndGlyphs">CME</text>
<text x="15.9" y="25.7" font-size="10.5" textLength="59.8" lengthAdjust="spacingAndGlyphs">21-Mar-2024</text>
<text x="967" y="13" font-size="10" fill="#444" stroke="none" textLength="89" lengthAdjust="spacingAndGlyphs">© StockCharts.com</text>
<text x="560.0" y="26.2" font-size="11" font-weight="bold">Open</text>
<text x="591.8" y="26.2" font-size="10.5">2190.20</text>
<text x="636.9" y="26.2" font-size="11" font-weight="bold">High</text>
<text x="664.2" y="26.2" font-size="10.5">2225.30</text>
<text x="708.5" y="26.2" font-size="11" font-weight="bold">Low</text>
<text x="736.0" y="26.2" font-size="10.5">2168.20</text>
<text x="780.9" y="26.2" font-size="11" font-weight="bold">Close</text>
<text x="815.8" y="26.2" font-size="10.5">2184.70</text>
<text x="861.3" y="26.2" font-size="11" font-weight="bold">Volume</text>
<text x="906.4" y="26.2" font-size="10.5">37.0M</text>
<text x="942.7" y="26.2" font-size="11" font-weight="bold">Chg</text>
<text x="968.0" y="26.2" font-size="10.5">+23.70 (+1.10%)</text>
<path d="M1048.5,25.5 L1052.5,21 L1056.5,25.5 Z" fill="#2e7d32" stroke="none"/>
<rect x="17" y="29" width="145" height="12" fill="#fff" stroke="none"/>
<rect x="19" y="34" width="9" height="2" fill="#000" stroke="none"/>
<text x="31.7" y="39.3" font-size="10" textLength="127.3" lengthAdjust="spacing">$GOLD (Daily) 2184.70</text>
<path d="M1054.5,35.5 L1058.5,30.5 L1099.5,30.5 L1099.5,41 L1058.5,41 Z" fill="#fff" stroke="#000" stroke-width="1.3"/>
<text x="1059" y="39.7" font-size="10.6" font-weight="bold" stroke-width="0.45" textLength="38.3" lengthAdjust="spacingAndGlyphs">2184.70</text>
</g>
</svg></body></html>
